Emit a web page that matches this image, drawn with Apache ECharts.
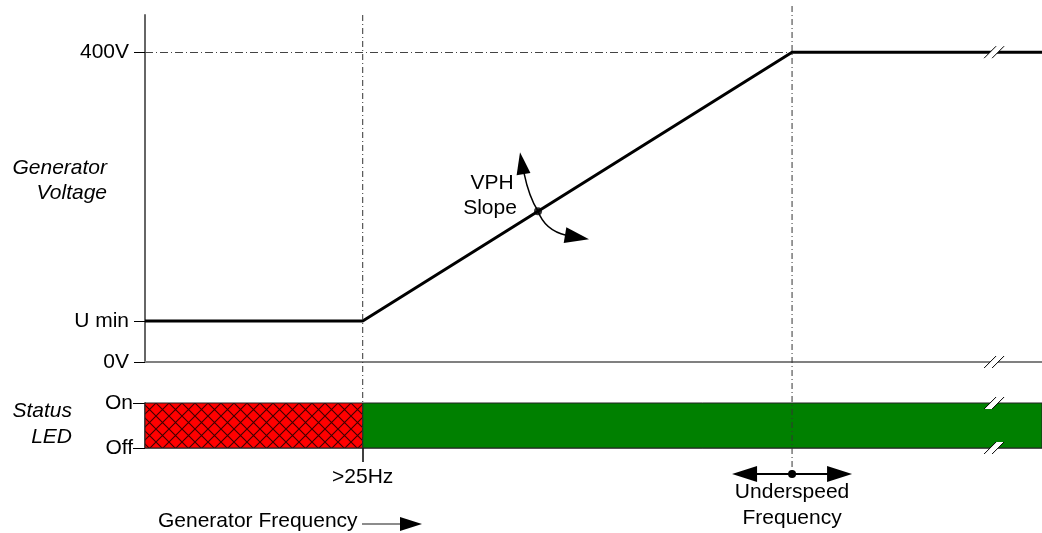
<!DOCTYPE html>
<html>
<head>
<meta charset="utf-8">
<script src="https://cdn.jsdelivr.net/npm/echarts@6/dist/echarts.min.js"></script>
<style>
  html, body { margin: 0; padding: 0; background: #fff; }
  #chart { width: 1042px; height: 533px; }
</style>
</head>
<body>
<div id="chart"></div>
<script>
// voltage curve (x = generator frequency in arbitrary units, y = volts)
const freqPoints = [0, 25, 74.3, 103];
const voltPoints = [53, 53, 400, 400];
const voltTicks = [0, 53, 400];
const voltTickLabels = ["0V", "U min", "400V"];

// status LED segments
const ledStart = [0, 25];
const ledEnd = [25, 103];
const ledState = ["flash", "on"];
const ledTicks = [0, 1];
const ledTickLabels = ["Off", "On"];

// frequency markers
const minFreq = 25;
const minFreqLabel = ">25Hz";
const underspeedFreq = 74.3;
const vphPoint = [45.13, 194.7];
const breakX = 97.5;

const FONT = '"Liberation Sans", Arial, sans-serif';

const chart = echarts.init(document.getElementById("chart"));

// red cross-hatch pattern
const T = 13;
const pat = document.createElement("canvas");
pat.width = T;
pat.height = T;
const pc = pat.getContext("2d");
pc.fillStyle = "#ff0000";
pc.fillRect(0, 0, T, T);
pc.strokeStyle = "rgba(40,0,0,0.9)";
pc.lineWidth = 1.1;
pc.beginPath();
pc.moveTo(0, 0); pc.lineTo(T, T);
pc.moveTo(T, 0); pc.lineTo(0, T);
pc.stroke();

const option = {
  animation: false,
  grid: [
    { left: 145, right: 0, top: 15, height: 347 },
    { left: 145, right: 0, top: 403, height: 45 },
  ],
  xAxis: [
    {
      type: "value", gridIndex: 0, min: 0, max: 103,
      axisLine: { show: true, lineStyle: { color: "#808080", width: 2 } },
      axisTick: { show: false },
      axisLabel: { show: false },
      splitLine: { show: false },
    },
    {
      type: "value", gridIndex: 1, min: 0, max: 103,
      axisLine: { show: true, lineStyle: { color: "#808080", width: 2 } },
      axisTick: { show: true, customValues: [minFreq], length: 14, lineStyle: { color: "#000", width: 1.5 } },
      axisLabel: {
        show: true, customValues: [minFreq], margin: 19,
        formatter: () => minFreqLabel,
        color: "#000", fontSize: 21, fontFamily: FONT,
      },
      splitLine: { show: false },
    },
  ],
  yAxis: [
    {
      type: "value", gridIndex: 0, min: 0, max: 448,
      axisLine: { show: true, lineStyle: { color: "#666", width: 2 } },
      axisTick: { show: true, customValues: voltTicks, length: 11, lineStyle: { color: "#000", width: 1 } },
      axisLabel: {
        show: true, customValues: voltTicks, margin: 16,
        formatter: (v) => voltTickLabels[voltTicks.indexOf(v)],
        color: "#000", fontSize: 21, fontFamily: FONT,
      },
      splitLine: { show: false },
    },
    {
      type: "value", gridIndex: 1, min: 0, max: 1,
      axisLine: { show: true, lineStyle: { color: "#666", width: 2 } },
      axisTick: { show: true, customValues: ledTicks, length: 12, lineStyle: { color: "#000", width: 1 } },
      axisLabel: {
        show: true, customValues: ledTicks, margin: 12,
        formatter: (v) => ledTickLabels[ledTicks.indexOf(v)],
        color: "#000", fontSize: 21, fontFamily: FONT,
      },
      splitLine: { show: false },
    },
  ],
  series: [
    {
      type: "line",
      xAxisIndex: 0, yAxisIndex: 0,
      data: freqPoints.map((f, i) => [f, voltPoints[i]]),
      showSymbol: false,
      lineStyle: { color: "#000", width: 3 },
      z: 5,
      markLine: {
        silent: true,
        symbol: "none",
        label: { show: false },
        lineStyle: { color: "#444", width: 1, type: [8, 3, 1, 3] },
        data: [[{ coord: [0, 400] }, { coord: [underspeedFreq, 400] }]],
      },
    },
    {
      type: "scatter",
      xAxisIndex: 0, yAxisIndex: 0,
      data: [vphPoint],
      symbolSize: 8,
      itemStyle: { color: "#000" },
      z: 6,
    },
    {
      type: "custom",
      xAxisIndex: 1, yAxisIndex: 1,
      data: ledStart.map((s, i) => [s, ledEnd[i], i]),
      renderItem: (params, api) => {
        const a = api.coord([api.value(0), 1]);
        const b = api.coord([api.value(1), 0]);
        const state = ledState[api.value(2)];
        return {
          type: "rect",
          shape: { x: a[0], y: a[1], width: b[0] - a[0], height: b[1] - a[1] },
          style: {
            fill: state === "on" ? "#008000" : { image: pat, repeat: "repeat" },
            stroke: "#222",
            lineWidth: 1,
          },
        };
      },
      z: 3,
    },
  ],
};
chart.setOption(option);

// annotations placed from data coordinates
const px0 = (p) => chart.convertToPixel({ xAxisIndex: 0, yAxisIndex: 0 }, p);
const px1 = (p) => chart.convertToPixel({ xAxisIndex: 1, yAxisIndex: 1 }, p);

function arrowHead(tip, base, halfW) {
  const dx = tip[0] - base[0], dy = tip[1] - base[1];
  const len = Math.hypot(dx, dy);
  const nx = -dy / len, ny = dx / len;
  return [tip, [base[0] + nx * halfW, base[1] + ny * halfW], [base[0] - nx * halfW, base[1] - ny * halfW]];
}

function breakMark(p) {
  const [x, y] = p;
  return [
    { type: "polygon", z: 20, shape: { points: [[x - 10, y + 6], [x - 2, y + 6], [x + 10, y - 6], [x + 2, y - 6]] }, style: { fill: "#fff" } },
    { type: "line", z: 21, shape: { x1: x - 10, y1: y + 6, x2: x + 2, y2: y - 6 }, style: { stroke: "#000", lineWidth: 1 } },
    { type: "line", z: 21, shape: { x1: x - 2, y1: y + 6, x2: x + 10, y2: y - 6 }, style: { stroke: "#000", lineWidth: 1 } },
  ];
}

function text(str, x, y, align, italic) {
  return {
    type: "text", z: 20,
    style: {
      text: str, x: x, y: y,
      font: (italic ? "italic " : "") + "21px " + FONT,
      fill: "#000",
      align: align, verticalAlign: "middle",
      textAlign: align, textVerticalAlign: "middle",
    },
  };
}

const a25 = px0([minFreq, 448]);
const b25 = px1([minFreq, 0]);
const aUs = px0([underspeedFreq, 448]);
const bUs = px1([underspeedFreq, 0]);
const usY = bUs[1] + 26;
const dot = px0(vphPoint);

const dashStyle = { stroke: "#333", lineWidth: 1, lineDash: [6, 3, 1, 3] };

const graphics = [
  { type: "line", z: 10, shape: { x1: a25[0], y1: a25[1], x2: b25[0], y2: b25[1] }, style: dashStyle },
  { type: "line", z: 10, shape: { x1: aUs[0], y1: aUs[1] - 9, x2: bUs[0], y2: usY }, style: dashStyle },
  // underspeed double arrow
  { type: "line", z: 11, shape: { x1: bUs[0] - 40, y1: usY, x2: bUs[0] + 40, y2: usY }, style: { stroke: "#000", lineWidth: 2 } },
  { type: "polygon", z: 11, shape: { points: arrowHead([bUs[0] - 60, usY], [bUs[0] - 35, usY], 8) }, style: { fill: "#000" } },
  { type: "polygon", z: 11, shape: { points: arrowHead([bUs[0] + 60, usY], [bUs[0] + 35, usY], 8) }, style: { fill: "#000" } },
  { type: "circle", z: 12, shape: { cx: bUs[0], cy: usY, r: 4 }, style: { fill: "#000" } },
  // VPH slope curved arrows
  { type: "bezierCurve", z: 11, shape: { x1: dot[0], y1: dot[1], cpx1: dot[0] - 9, cpy1: dot[1] - 14, x2: dot[0] - 14, y2: dot[1] - 38 }, style: { stroke: "#000", lineWidth: 1.5, fill: null } },
  { type: "polygon", z: 11, shape: { points: arrowHead([dot[0] - 18, dot[1] - 59], [dot[0] - 14.5, dot[1] - 37], 7) }, style: { fill: "#000" } },
  { type: "bezierCurve", z: 11, shape: { x1: dot[0], y1: dot[1], cpx1: dot[0] + 7, cpy1: dot[1] + 19, x2: dot[0] + 28, y2: dot[1] + 24 }, style: { stroke: "#000", lineWidth: 1.5, fill: null } },
  { type: "polygon", z: 11, shape: { points: arrowHead([dot[0] + 51, dot[1] + 28], [dot[0] + 27, dot[1] + 24], 8) }, style: { fill: "#000" } },
  // generator frequency arrow
  { type: "line", z: 11, shape: { x1: 362, y1: 524, x2: 402, y2: 524 }, style: { stroke: "#666", lineWidth: 1.5 } },
  { type: "polygon", z: 11, shape: { points: arrowHead([422, 524], [400, 524], 7) }, style: { fill: "#000" } },
  // texts
  text("Generator", 107, 168, "right", true),
  text("Voltage", 107, 193, "right", true),
  text("Status", 72, 411, "right", true),
  text("LED", 72, 437, "right", true),
  text("VPH", 492, 183, "center", false),
  text("Slope", 490, 208, "center", false),
  text("Generator Frequency", 158, 521, "left", false),
  text("Underspeed", bUs[0], 492, "center", false),
  text("Frequency", bUs[0], 518, "center", false),
]
  .concat(breakMark(px0([breakX, 400])))
  .concat(breakMark(px0([breakX, 0])))
  .concat(breakMark(px1([breakX, 1])))
  .concat(breakMark(px1([breakX, 0])));

chart.setOption({ graphic: graphics });
</script>
</body>
</html>
